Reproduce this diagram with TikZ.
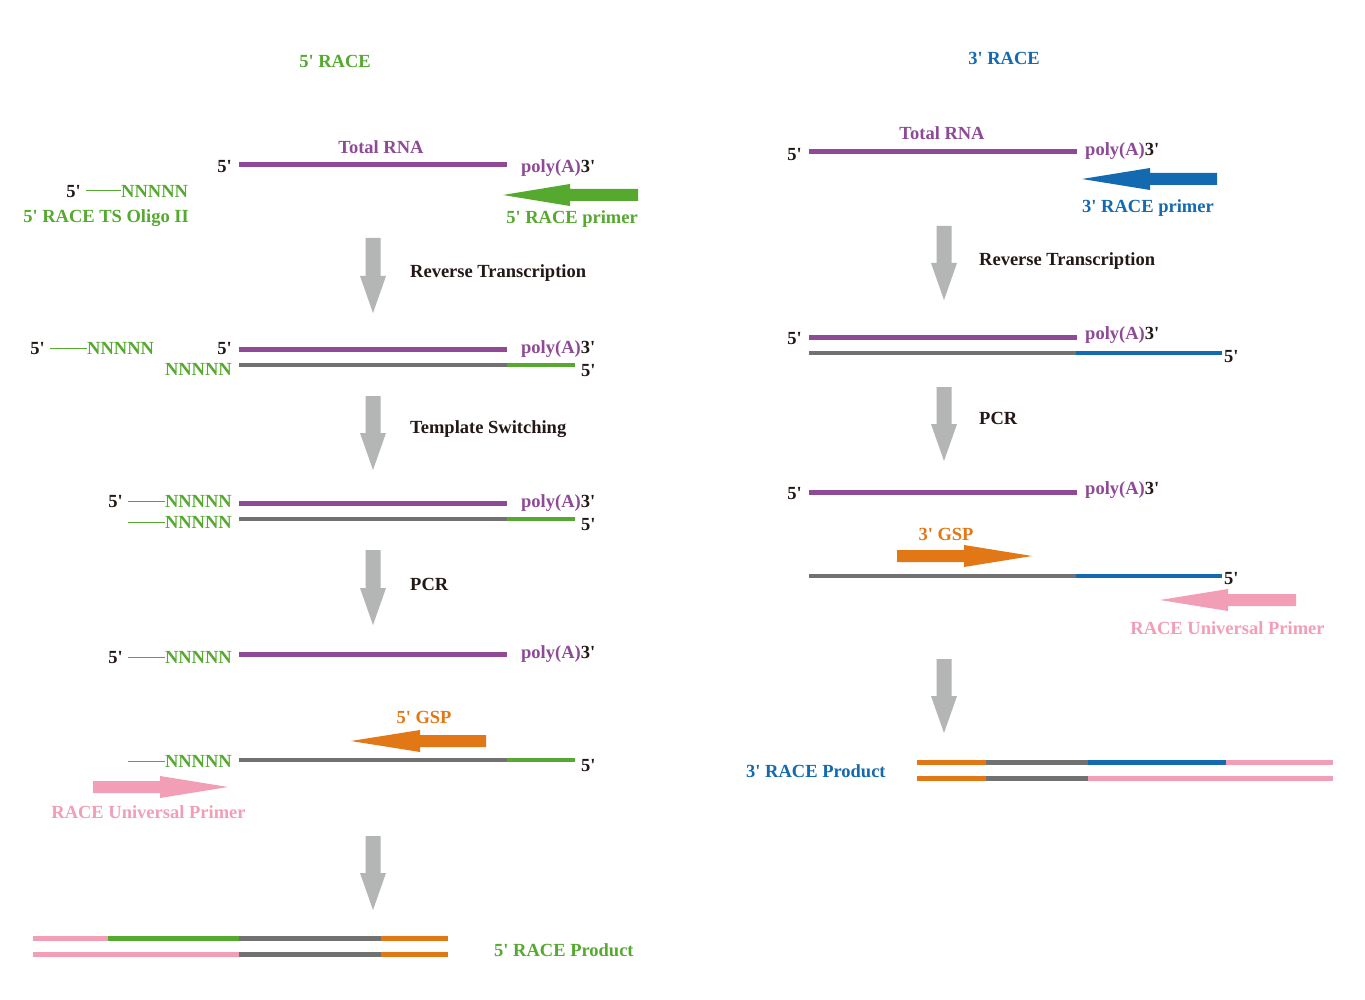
\documentclass[tikz,border=0pt]{standalone}
\usepackage{fontspec}
\setmainfont{Liberation Serif}
\definecolor{cpur}{HTML}{8E4A97}
\definecolor{cgrn}{HTML}{55A92F}
\definecolor{cgry}{HTML}{727171}
\definecolor{carr}{HTML}{B4B5B5}
\definecolor{corg}{HTML}{E27716}
\definecolor{cblu}{HTML}{136AB0}
\definecolor{cpnk}{HTML}{F19EB6}
\definecolor{ctxt}{HTML}{231815}
\newcommand\pr{\textquotesingle}
\newcommand\harr[5]{\fill[#5] (#1,#3-6) -- (#4,#3-6) -- (#4,#3-11) -- (#2,#3) -- (#4,#3+11) -- (#4,#3+6) -- (#1,#3+6) -- cycle;}
\newcommand\varr[3]{\fill[carr] (#1-7.5,#2) -- (#1+7.5,#2) -- (#1+7.5,#3-37) -- (#1+13,#3-37) -- (#1,#3) -- (#1-13,#3-37) -- (#1-7.5,#3-37) -- cycle;}
\tikzset{
 lbl/.style={font=\bfseries\fontsize{18.5}{21}\selectfont, inner sep=0pt, text=ctxt, yshift=-1.5pt},
 strand/.style={line width=5pt},
 thinln/.style={line width=1pt, cgrn},
}
\begin{document}
\begin{tikzpicture}[x=1pt,y=-1pt]
\fill[white] (0,0) rectangle (1365,1000);
\useasboundingbox (0,0) rectangle (1365,1000);
% ===== LEFT: 5' RACE =====
\node[lbl, text=cgrn] (t5) at (335,60) {5\pr{} RACE};
\node[lbl, text=cpur] (trnaL) at (381,146) {Total RNA};
\node[lbl, anchor=east] (L1a) at (232,165) {5\pr};
\draw[strand,cpur] (239,165) -- (507,165);
\node[lbl, anchor=west] (L1p) at (521,167) {\textcolor{cpur}{poly(A)}3\pr};
\node[lbl, anchor=east] (L1b) at (81,190) {5\pr};
\draw[thinln] (86,191) -- (121,191);
\node[lbl, anchor=west, text=cgrn] (L1n) at (121,190) {NNNNN};
\node[lbl, anchor=east, text=cgrn] (oligo) at (189,217) {5\pr{} RACE TS Oligo II};
\harr{638}{503}{195}{570}{cgrn}
\node[lbl, anchor=east, text=cgrn] (p5) at (638,218) {5\pr{} RACE primer};
\varr{373}{238}{313}
\node[lbl, anchor=west] (rtL) at (410,272) {Reverse Transcription};
% row 2
\node[lbl, anchor=east] (L2a) at (45,347) {5\pr};
\draw[thinln] (50,348) -- (87,348);
\node[lbl, anchor=west, text=cgrn] (L2n) at (87,347) {NNNNN};
\node[lbl, anchor=east] (L2b) at (232,347) {5\pr};
\draw[strand,cpur] (239,349) -- (507,349);
\node[lbl, anchor=west] (L2p) at (521,348) {\textcolor{cpur}{poly(A)}3\pr};
\node[lbl, anchor=east, text=cgrn] (L2m) at (232,368) {NNNNN};
\draw[strand,cgry,line width=4.5pt] (239,365) -- (507,365);
\draw[strand,cgrn,line width=4.5pt] (507,365) -- (575,365);
\node[lbl, anchor=west] (L2c) at (581,369) {5\pr};
\varr{373}{396}{470}
\node[lbl, anchor=west] (tsL) at (410,428) {Template Switching};
% row 3
\node[lbl, anchor=east] (L3a) at (123,500) {5\pr};
\draw[thinln] (128,501) -- (165,501);
\node[lbl, anchor=east, text=cgrn] (L3n) at (232,500) {NNNNN};
\draw[strand,cpur] (239,503) -- (507,503);
\node[lbl, anchor=west] (L3p) at (521,502) {\textcolor{cpur}{poly(A)}3\pr};
\draw[thinln] (128,522) -- (165,522);
\node[lbl, anchor=east, text=cgrn] (L3m) at (232,521) {NNNNN};
\draw[strand,cgry,line width=4.5pt] (239,519) -- (507,519);
\draw[strand,cgrn,line width=4.5pt] (507,519) -- (575,519);
\node[lbl, anchor=west] (L3c) at (581,523) {5\pr};
\varr{373}{550}{625}
\node[lbl, anchor=west] (pcrL) at (410,583) {PCR};
% row 4
\node[lbl, anchor=east] (L4a) at (123,656) {5\pr};
\draw[thinln] (128,657) -- (165,657);
\node[lbl, anchor=east, text=cgrn] (L4n) at (232,656) {NNNNN};
\draw[strand,cpur] (239,654) -- (507,654);
\node[lbl, anchor=west] (L4p) at (521,653) {\textcolor{cpur}{poly(A)}3\pr};
% row 5
\node[lbl, text=corg] (gsp5) at (424,716) {5\pr{} GSP};
\harr{486}{351}{741}{420}{corg}
\draw[thinln] (128,761) -- (165,761);
\node[lbl, anchor=east, text=cgrn] (L5n) at (232,760) {NNNNN};
\draw[strand,cgry,line width=4.5pt] (239,760) -- (507,760);
\draw[strand,cgrn,line width=4.5pt] (507,760) -- (575,760);
\node[lbl, anchor=west] (L5c) at (581,764) {5\pr};
\harr{93}{228}{787}{160}{cpnk}
\node[lbl, text=cpnk] (uniL) at (148.5,811) {RACE Universal Primer};
\varr{373}{836}{910}
% product
\draw[strand,cpnk] (33,938) -- (108,938);
\draw[strand,cgrn] (108,938) -- (239,938);
\draw[strand,cgry] (239,938) -- (381,938);
\draw[strand,corg] (381,938) -- (448,938);
\draw[strand,cpnk] (33,954) -- (239,954);
\draw[strand,cgry] (239,954) -- (381,954);
\draw[strand,corg] (381,954) -- (448,954);
\node[lbl, text=cgrn, anchor=west] (prodL) at (494,949) {5\pr{} RACE Product};
% ===== RIGHT: 3' RACE =====
\node[lbl, text=cblu] (t3) at (1004,57) {3\pr{} RACE};
\node[lbl, text=cpur] (trnaR) at (942,132) {Total RNA};
\node[lbl, anchor=east] (R1a) at (802,153) {5\pr};
\draw[strand,cpur] (809,152) -- (1077,152);
\node[lbl, anchor=west] (R1p) at (1085,150) {\textcolor{cpur}{poly(A)}3\pr};
\harr{1217}{1082}{179}{1150}{cblu}
\node[lbl, anchor=west, text=cblu] (p3) at (1082,207) {3\pr{} RACE primer};
\varr{944}{226}{300}
\node[lbl, anchor=west] (rtR) at (979,260) {Reverse Transcription};
% row 2
\node[lbl, anchor=east] (R2a) at (802,337) {5\pr};
\draw[strand,cpur] (809,337) -- (1077,337);
\node[lbl, anchor=west] (R2p) at (1085,334) {\textcolor{cpur}{poly(A)}3\pr};
\draw[strand,cgry,line width=4.5pt] (809,353) -- (1076,353);
\draw[strand,cblu,line width=4.5pt] (1076,353) -- (1222,353);
\node[lbl, anchor=west] (R2c) at (1224,355) {5\pr};
\varr{944}{387}{461}
\node[lbl, anchor=west] (pcrR) at (979,417) {PCR};
% row 3
\node[lbl, anchor=east] (R3a) at (802,492) {5\pr};
\draw[strand,cpur] (809,492) -- (1077,492);
\node[lbl, anchor=west] (R3p) at (1085,489) {\textcolor{cpur}{poly(A)}3\pr};
\node[lbl, text=corg] (gsp3) at (946,533) {3\pr{} GSP};
\harr{897}{1032}{556}{964}{corg}
\draw[strand,cgry,line width=4.5pt] (809,576) -- (1076,576);
\draw[strand,cblu,line width=4.5pt] (1076,576) -- (1222,576);
\node[lbl, anchor=west] (R3c) at (1224,577) {5\pr};
\harr{1296}{1160}{600}{1228}{cpnk}
\node[lbl, text=cpnk] (uniR) at (1227.5,627) {RACE Universal Primer};
\varr{944}{659}{733}
% product
\node[lbl, text=cblu, anchor=west] (prodR) at (746,770) {3\pr{} RACE Product};
\draw[strand,corg] (917,762) -- (986,762);
\draw[strand,cgry] (986,762) -- (1088,762);
\draw[strand,cblu] (1088,762) -- (1226,762);
\draw[strand,cpnk] (1226,762) -- (1333,762);
\draw[strand,corg] (917,778) -- (986,778);
\draw[strand,cgry] (986,778) -- (1088,778);
\draw[strand,cpnk] (1088,778) -- (1333,778);
\end{tikzpicture}
\end{document}
